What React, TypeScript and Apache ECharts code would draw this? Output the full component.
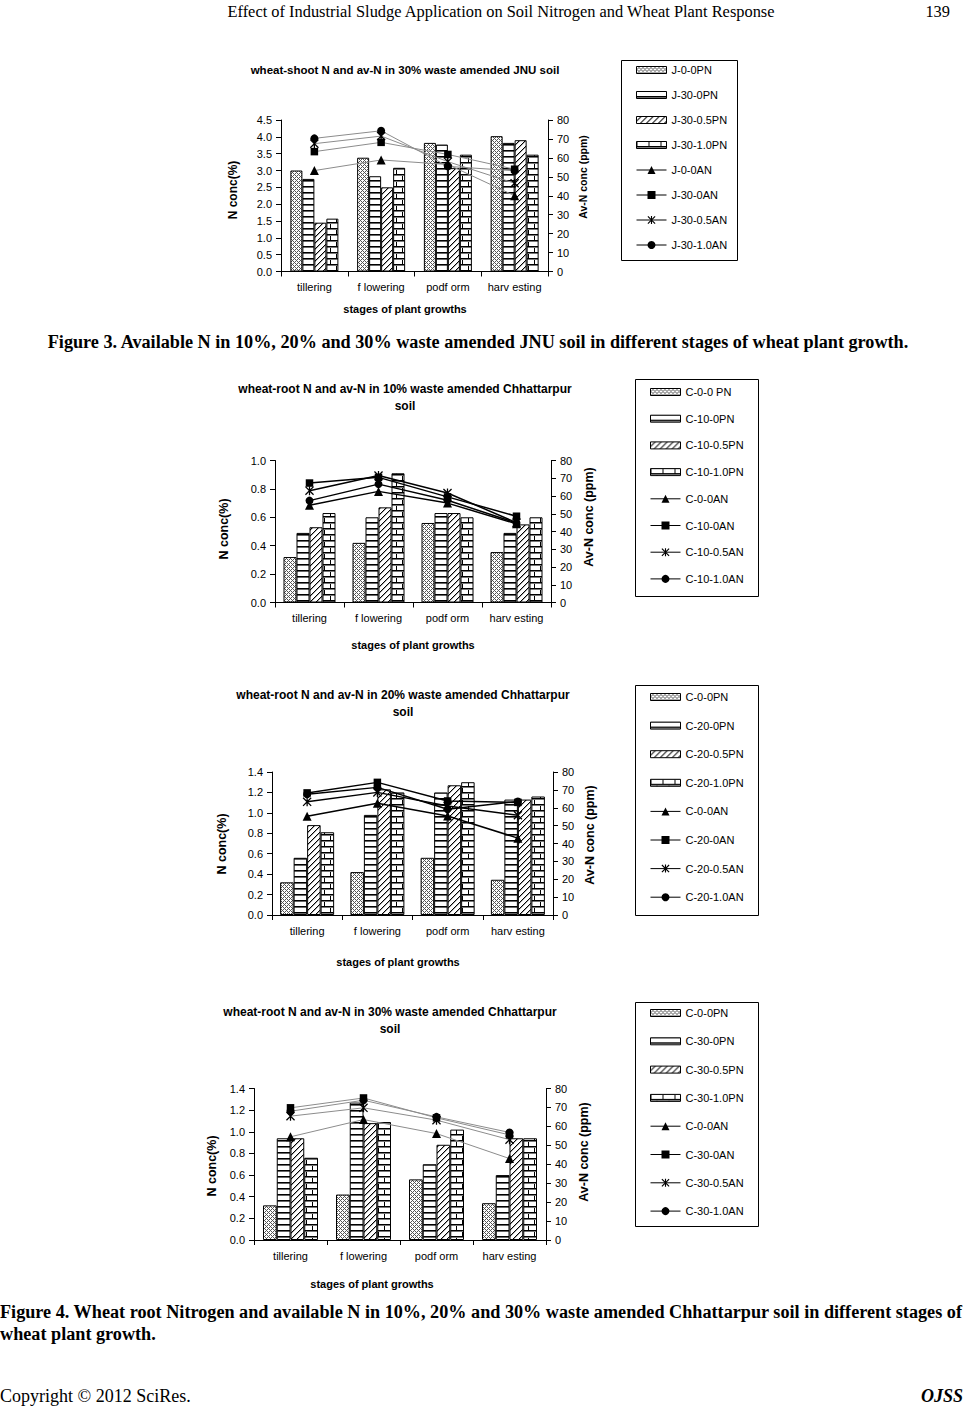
import React, { useEffect, useRef } from 'react';
import * as echarts from 'echarts';

// ---------- DATA ----------
const stages = ['tillering', 'f lowering', 'podf orm', 'harv esting'];

// Chart 1: wheat-shoot, JNU 30%
const jnuTitle = ['wheat-shoot N and av-N in 30% waste amended JNU soil'];
const jnuBarNames = ['J-0-0PN', 'J-30-0PN', 'J-30-0.5PN', 'J-30-1.0PN'];
const jnuLineNames = ['J-0-0AN', 'J-30-0AN', 'J-30-0.5AN', 'J-30-1.0AN'];
const jnu_0_0PN = [3.0, 3.38, 3.82, 4.02];
const jnu_30_0PN = [2.75, 2.83, 3.77, 3.82];
const jnu_30_05PN = [1.45, 2.5, 3.07, 3.9];
const jnu_30_10PN = [1.57, 3.08, 3.47, 3.47];
const jnu_0_0AN = [53.3, 58.9, 56.5, 40];
const jnu_30_0AN = [63.3, 68.2, 61.8, 54];
const jnu_30_05AN = [67.5, 71.5, 58, 46.6];
const jnu_30_10AN = [70.3, 74.3, 55.5, 53.2];

// Chart 2: wheat-root, Chhattarpur 10%
const c10Title = ['wheat-root N and av-N in 10% waste amended Chhattarpur', 'soil'];
const c10BarNames = ['C-0-0 PN', 'C-10-0PN', 'C-10-0.5PN', 'C-10-1.0PN'];
const c10LineNames = ['C-0-0AN', 'C-10-0AN', 'C-10-0.5AN', 'C-10-1.0AN'];
const c10_0_0PN = [0.32, 0.42, 0.56, 0.355];
const c10_10_0PN = [0.49, 0.6, 0.63, 0.49];
const c10_10_05PN = [0.53, 0.67, 0.63, 0.55];
const c10_10_10PN = [0.63, 0.91, 0.6, 0.6];
const c10_0_0AN = [54.8, 62.6, 56, 44.3];
const c10_10_0AN = [67.3, 70.5, 59.5, 48.6];
const c10_10_05AN = [63, 71.5, 61.7, 45];
const c10_10_10AN = [57.4, 66.7, 57.6, 44.8];

// Chart 3: wheat-root, Chhattarpur 20%
const c20Title = ['wheat-root N and av-N in 20% waste amended Chhattarpur', 'soil'];
const c20BarNames = ['C-0-0PN', 'C-20-0PN', 'C-20-0.5PN', 'C-20-1.0PN'];
const c20LineNames = ['C-0-0AN', 'C-20-0AN', 'C-20-0.5AN', 'C-20-1.0AN'];
const c20_0_0PN = [0.32, 0.42, 0.56, 0.345];
const c20_20_0PN = [0.56, 0.98, 1.2, 1.13];
const c20_20_05PN = [0.88, 1.23, 1.27, 1.13];
const c20_20_10PN = [0.81, 1.2, 1.3, 1.16];
const c20_0_0AN = [55.2, 62.5, 55.4, 43];
const c20_20_0AN = [68.3, 74.2, 63.8, 63];
const c20_20_05AN = [63.3, 68.6, 61, 55.8];
const c20_20_10AN = [67.6, 71.4, 59.2, 63.5];

// Chart 4: wheat-root, Chhattarpur 30%
const c30Title = ['wheat-root N and av-N in 30% waste amended Chhattarpur', 'soil'];
const c30BarNames = ['C-0-0PN', 'C-30-0PN', 'C-30-0.5PN', 'C-30-1.0PN'];
const c30LineNames = ['C-0-0AN', 'C-30-0AN', 'C-30-0.5AN', 'C-30-1.0AN'];
const c30_0_0PN = [0.32, 0.42, 0.56, 0.34];
const c30_30_0PN = [0.94, 1.27, 0.7, 0.6];
const c30_30_05PN = [0.94, 1.08, 0.88, 0.94];
const c30_30_10PN = [0.76, 1.09, 1.02, 0.94];
const c30_0_0AN = [54.5, 63.6, 56.2, 43];
const c30_30_0AN = [69.8, 75, 64.5, 55.5];
const c30_30_05AN = [65.4, 69.8, 63.3, 53];
const c30_30_10AN = [68, 73.8, 65, 56.8];

// Axis tick settings
const leftMax = [4.5, 1.0, 1.4, 1.4];
const leftStep = [0.5, 0.2, 0.2, 0.2];
const rightMax = 80;
const rightStep = 10;

// Page texts
const headerText = 'Effect of Industrial Sludge Application on Soil Nitrogen and Wheat Plant Response';
const pageNumber = '139';
const fig3Caption = 'Figure 3. Available N in 10%, 20% and 30% waste amended JNU soil in different stages of wheat plant growth.';
const fig4Caption = [
  'Figure 4. Wheat root Nitrogen and available N in 10%, 20% and 30% waste amended Chhattarpur soil in different stages of',
  'wheat plant growth.',
];
const footerLeft = 'Copyright \u00A9 2012 SciRes.';
const footerRight = 'OJSS';
const yNameLeft = 'N conc(%)';
const yNameRight = 'Av-N conc (ppm)';
const xName = 'stages of plant growths';

// ---------- LAYOUT / STYLE ----------
const SANS = "'Liberation Sans', Arial, sans-serif";
const SERIF = "'Liberation Serif', 'Times New Roman', serif";

const layouts = [
  {
    left: 281, top: 120, width: 267, height: 151.5, barW: 12,
    titleX: 405, titleY: [70], titleSize: 11.5,
    yL: [233, 190], yLSize: 12, yR: [583, 177], yRSize: 10.5, xN: [405, 309],
    box: [621, 60, 116, 200], legLeft: 636, legFirst: 70, legStep: 25,
    lineColor: '#8c8c8c', lineWidth: 1,
  },
  {
    left: 275, top: 460.5, width: 276, height: 142, barW: 13,
    titleX: 405, titleY: [389, 406], titleSize: 12,
    yL: [224, 529], yLSize: 12.5, yR: [589, 517], yRSize: 12.5, xN: [413, 645],
    box: [635, 379, 123, 217], legLeft: 650, legFirst: 392, legStep: 26.7,
    lineColor: '#000', lineWidth: 1.5,
  },
  {
    left: 272, top: 772, width: 281, height: 143, barW: 13.5,
    titleX: 403, titleY: [695, 712], titleSize: 12,
    yL: [222, 844], yLSize: 12.5, yR: [590, 835], yRSize: 12.5, xN: [398, 962],
    box: [635, 685, 123, 230], legLeft: 650, legFirst: 697, legStep: 28.6,
    lineColor: '#000', lineWidth: 1.5,
  },
  {
    left: 254, top: 1088.5, width: 292, height: 151.5, barW: 13.75,
    titleX: 390, titleY: [1012, 1029], titleSize: 12,
    yL: [212, 1166], yLSize: 12.5, yR: [584, 1152], yRSize: 12.5, xN: [372, 1284],
    box: [635, 1002, 123, 224], legLeft: 650, legFirst: 1013, legStep: 28.3,
    lineColor: '#8c8c8c', lineWidth: 1,
  },
];

const STAR =
  'path://M4.3,0 L5.7,0 L5.7,10 L4.3,10 Z M0,1 L1,0 L10,9 L9,10 Z M9,0 L10,1 L1,10 L0,9 Z';
const lineSymbols = ['triangle', 'rect', STAR, 'circle'];
const lineSymbolSizes = [9, 7.5, 9, 8];
const BAR_ICON = 'path://M0,0 M0,1.5 L30,1.5 L30,8.5 L0,8.5 Z M0,10';

function makePattern(w: number, h: number, paint: (ctx: CanvasRenderingContext2D) => void) {
  const c = document.createElement('canvas');
  c.width = w;
  c.height = h;
  const ctx = c.getContext('2d') as CanvasRenderingContext2D;
  ctx.fillStyle = '#fff';
  ctx.fillRect(0, 0, w, h);
  paint(ctx);
  return { image: c.toDataURL('image/png'), repeat: 'repeat', imageWidth: w, imageHeight: h };
}

function px(ctx: CanvasRenderingContext2D, x: number, y: number, col: string) {
  ctx.fillStyle = col;
  ctx.fillRect(x, y, 1, 1);
}

function buildPatterns() {
  const cross = makePattern(4, 4, (ctx) => {
    for (let x = 0; x < 4; x++)
      for (let y = 0; y < 4; y++)
        if ((x + y) % 4 === 0 || (x - y + 4) % 4 === 0) px(ctx, x, y, '#555');
  });
  const horiz = makePattern(4, 6, (ctx) => {
    ctx.fillStyle = '#000';
    ctx.fillRect(0, 0, 4, 1);
    ctx.fillStyle = '#666';
    ctx.fillRect(0, 1, 4, 1);
  });
  const diag = makePattern(6, 6, (ctx) => {
    for (let x = 0; x < 6; x++)
      for (let y = 0; y < 6; y++) {
        const m = (x + y) % 6;
        if (m === 5) px(ctx, x, y, '#000');
        else if (m === 0) px(ctx, x, y, '#aaa');
      }
  });
  const brick = makePattern(12, 12, (ctx) => {
    ctx.fillStyle = '#000';
    ctx.fillRect(0, 0, 12, 1);
    ctx.fillRect(0, 6, 12, 1);
    ctx.fillRect(0, 0, 1, 6);
    ctx.fillRect(6, 6, 1, 6);
    ctx.fillStyle = '#777';
    ctx.fillRect(0, 1, 12, 1);
    ctx.fillRect(0, 7, 12, 1);
  });
  return [cross, horiz, diag, brick];
}

function textEl(x: number, y: number, text: string, o: any = {}) {
  return {
    type: 'text',
    x,
    y,
    rotation: o.rot || 0,
    silent: true,
    style: {
      text,
      fill: '#000',
      fontFamily: o.family || SANS,
      fontSize: o.size || 11,
      fontWeight: o.weight || 'normal',
      fontStyle: o.style || 'normal',
      textAlign: o.align || 'center',
      textVerticalAlign: 'middle',
      align: o.align || 'center',
      verticalAlign: 'middle',
    },
  };
}

function buildOption() {
  const patterns = buildPatterns();
  const charts = [
    {
      title: jnuTitle, barNames: jnuBarNames, lineNames: jnuLineNames,
      bars: [jnu_0_0PN, jnu_30_0PN, jnu_30_05PN, jnu_30_10PN],
      lines: [jnu_0_0AN, jnu_30_0AN, jnu_30_05AN, jnu_30_10AN],
    },
    {
      title: c10Title, barNames: c10BarNames, lineNames: c10LineNames,
      bars: [c10_0_0PN, c10_10_0PN, c10_10_05PN, c10_10_10PN],
      lines: [c10_0_0AN, c10_10_0AN, c10_10_05AN, c10_10_10AN],
    },
    {
      title: c20Title, barNames: c20BarNames, lineNames: c20LineNames,
      bars: [c20_0_0PN, c20_20_0PN, c20_20_05PN, c20_20_10PN],
      lines: [c20_0_0AN, c20_20_0AN, c20_20_05AN, c20_20_10AN],
    },
    {
      title: c30Title, barNames: c30BarNames, lineNames: c30LineNames,
      bars: [c30_0_0PN, c30_30_0PN, c30_30_05PN, c30_30_10PN],
      lines: [c30_0_0AN, c30_30_0AN, c30_30_05AN, c30_30_10AN],
    },
  ];

  const grid: any[] = [];
  const xAxis: any[] = [];
  const yAxis: any[] = [];
  const series: any[] = [];
  const legend: any[] = [];
  const graphic: any[] = [];

  const axisLabelBase = { color: '#000', fontFamily: SANS, fontSize: 11 };

  charts.forEach((c, i) => {
    const L = layouts[i];
    grid.push({ left: L.left, top: L.top, width: L.width, height: L.height, containLabel: false });
    xAxis.push({
      type: 'category', gridIndex: i, data: stages, boundaryGap: true,
      axisLine: { lineStyle: { color: '#000', width: 1 } },
      axisTick: { show: true, length: 5, lineStyle: { color: '#000' } },
      axisLabel: { ...axisLabelBase, margin: 10, interval: 0 },
      splitLine: { show: false },
    });
    yAxis.push({
      type: 'value', gridIndex: i, position: 'left', min: 0, max: leftMax[i], interval: leftStep[i],
      axisLine: { show: true, lineStyle: { color: '#000', width: 1 } },
      axisTick: { show: true, length: 5, lineStyle: { color: '#000' } },
      axisLabel: { ...axisLabelBase, margin: 9, formatter: (v: number) => v.toFixed(1) },
      splitLine: { show: false },
    });
    yAxis.push({
      type: 'value', gridIndex: i, position: 'right', min: 0, max: rightMax, interval: rightStep,
      axisLine: { show: true, lineStyle: { color: '#000', width: 1 } },
      axisTick: { show: true, length: 5, lineStyle: { color: '#000' } },
      axisLabel: { ...axisLabelBase, margin: 9 },
      splitLine: { show: false },
    });

    c.barNames.forEach((name, k) => {
      series.push({
        type: 'bar', name, xAxisIndex: i, yAxisIndex: 2 * i, data: c.bars[k],
        barWidth: L.barW, barGap: '0%', silent: true, z: 2,
        itemStyle: { color: patterns[k], borderColor: '#000', borderWidth: 1 },
        emphasis: { disabled: true },
      });
    });
    c.lineNames.forEach((name, k) => {
      series.push({
        type: 'line', name, xAxisIndex: i, yAxisIndex: 2 * i + 1, data: c.lines[k],
        symbol: lineSymbols[k], symbolSize: lineSymbolSizes[k], showSymbol: true,
        lineStyle: { color: L.lineColor, width: L.lineWidth },
        itemStyle: { color: '#000', borderWidth: 0 },
        silent: true, z: 3, emphasis: { disabled: true },
      });
    });

    legend.push({
      orient: 'vertical', left: L.legLeft, top: L.legFirst - 5.5, padding: 0,
      itemWidth: 30, itemHeight: 10, itemGap: L.legStep - 11,
      selectedMode: false,
      textStyle: { color: '#000', fontFamily: SANS, fontSize: 11, lineHeight: 10 },
      lineStyle: { color: '#000', width: 1 },
      data: [
        ...c.barNames.map((n) => ({ name: n, icon: BAR_ICON, itemStyle: { borderColor: '#000', borderWidth: 1 } })),
        ...c.lineNames.map((n) => ({ name: n })),
      ],
    });

    // legend box
    graphic.push({
      type: 'rect', silent: true, z: -1,
      shape: { x: L.box[0] + 0.5, y: L.box[1] + 0.5, width: L.box[2], height: L.box[3] },
      style: { fill: 'none', stroke: '#000', lineWidth: 1 },
    });
    // titles
    c.title.forEach((t, j) => graphic.push(textEl(L.titleX, L.titleY[j], t, { weight: 'bold', size: L.titleSize })));
    // axis names
    graphic.push(textEl(L.yL[0], L.yL[1], yNameLeft, { weight: 'bold', size: L.yLSize, rot: Math.PI / 2 }));
    graphic.push(textEl(L.yR[0], L.yR[1], yNameRight, { weight: 'bold', size: L.yRSize, rot: Math.PI / 2 }));
    graphic.push(textEl(L.xN[0], L.xN[1], xName, { weight: 'bold', size: 11 }));
  });

  // page texts
  graphic.push(textEl(501, 11, headerText, { family: SERIF, size: 16.4 }));
  graphic.push(textEl(950, 11, pageNumber, { family: SERIF, size: 16.4, align: 'right' }));
  graphic.push(textEl(478, 342, fig3Caption, { family: SERIF, size: 18.2, weight: 'bold', align: 'center' }));
  graphic.push(textEl(0, 1312, fig4Caption[0], { family: SERIF, size: 18.2, weight: 'bold', align: 'left' }));
  graphic.push(textEl(0, 1334, fig4Caption[1], { family: SERIF, size: 18.2, weight: 'bold', align: 'left' }));
  graphic.push(textEl(0, 1396, footerLeft, { family: SERIF, size: 18, align: 'left' }));
  graphic.push(textEl(963, 1396, footerRight, { family: SERIF, size: 18, weight: 'bold', style: 'italic', align: 'right' }));

  return {
    animation: false,
    backgroundColor: '#fff',
    grid,
    xAxis,
    yAxis,
    series,
    legend,
    graphic: { elements: graphic },
  };
}

export default function App() {
  const ref = useRef<HTMLDivElement>(null);
  useEffect(() => {
    if (!ref.current) return;
    const chart = echarts.init(ref.current, null, { renderer: 'svg' });
    chart.setOption(buildOption() as any);
    return () => chart.dispose();
  }, []);
  return (
    <div
      ref={ref}
      style={{ position: 'absolute', left: 0, top: 0, width: 966, height: 1414, background: '#fff' }}
    />
  );
}
